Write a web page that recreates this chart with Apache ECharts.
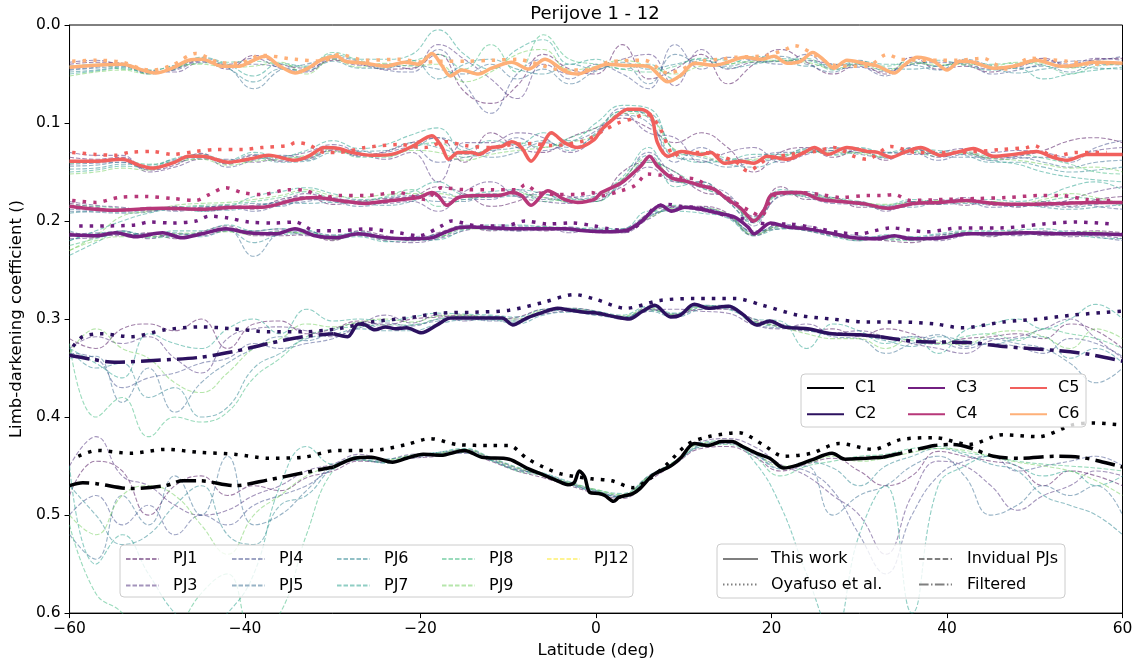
<!DOCTYPE html>
<html>
<head>
<meta charset="utf-8">
<title>Perijove 1 - 12</title>
<script src="https://cdn.jsdelivr.net/npm/echarts/dist/echarts.min.js"></script>
<style>
  html, body { margin: 0; padding: 0; background: #ffffff; }
  #chart { width: 1140px; height: 664px; }
</style>
</head>
<body>
<div id="chart"></div>
<script>
// ---------------------------------------------------------------
// Limb-darkening coefficients C1..C6 versus latitude, Perijove 1-12
// ---------------------------------------------------------------

// Latitude ticks (deg) and limb-darkening ticks
const X_TICKS = [-60, -40, -20, 0, 20, 40, 60];
const Y_TICKS = [0.0, 0.1, 0.2, 0.3, 0.4, 0.5, 0.6];

// Common latitude grid of the individual perijove profiles
const LAT_GRID = [-60,-57,-54,-51,-48,-45,-42,-39,-36,-33,-30,-27,-24,-21,-18,-15,-12,-9,-6,-3,0,
                  3,6,9,12,15,18,21,24,27,30,33,36,39,42,45,48,51,54,57,60];

// ---- This work (solid), [latitude, coefficient] ----
const C1_THIS_WORK = [[-29.9,0.451],[-27.5,0.442],[-25.6,0.441],[-23.2,0.446],[-21.6,0.442],[-19.7,0.438],[-17.7,0.439],[-15,0.434],[-13,0.441],[-9.9,0.443],[-7.9,0.452],[-6,0.459],[-4.4,0.465],[-3.2,0.469],[-2.5,0.467],[-1.9,0.455],[-1.3,0.461],[-0.7,0.477],[0.3,0.478],[1.0,0.480],[2.0,0.486],[2.6,0.482],[4.2,0.478],[5.0,0.473],[6.5,0.459],[8.5,0.450],[9.6,0.442],[11.2,0.427],[12.8,0.429],[14.3,0.425],[15.5,0.425],[16.7,0.430],[18.3,0.437],[19.8,0.442],[21.4,0.452],[23.0,0.449],[24.5,0.444],[26.9,0.437],[28.4,0.443],[30.8,0.442],[32.7,0.441]];
const C2_THIS_WORK = [[-29.9,0.315],[-28.3,0.318],[-27.1,0.305],[-26.3,0.306],[-25.2,0.311],[-24.0,0.308],[-22.8,0.310],[-21.6,0.309],[-19.9,0.314],[-18.1,0.306],[-16.6,0.299],[-13.8,0.299],[-10.7,0.299],[-9.5,0.306],[-7.9,0.299],[-6.0,0.293],[-4.4,0.289],[-2.9,0.291],[-1.3,0.293],[0.2,0.294],[1.8,0.297],[3.8,0.300],[5.3,0.292],[6.7,0.286],[8.5,0.298],[9.6,0.296],[11.2,0.285],[12.8,0.289],[15.1,0.287],[16.7,0.295],[18.3,0.306],[19.8,0.302],[21.4,0.308],[24.1,0.310],[26.9,0.315],[30.0,0.316],[32.4,0.318]];
const C3_THIS_WORK = [[-60,0.214],[-57,0.215],[-54.7,0.212],[-52.5,0.216],[-49.4,0.212],[-47.2,0.217],[-44.9,0.213],[-42.2,0.208],[-39.6,0.212],[-36.5,0.213],[-34.3,0.208],[-32.0,0.215],[-29.6,0.217],[-27.1,0.213],[-24.0,0.217],[-21.0,0.218],[-18.7,0.217],[-17.6,0.213],[-15.7,0.207],[-14.2,0.206],[-11.9,0.207],[-8.9,0.208],[-7.4,0.208],[-5.8,0.208],[-3.6,0.208],[-1.3,0.210],[1.3,0.211],[3.6,0.209],[5.1,0.201],[7.4,0.184],[8.6,0.190],[10.1,0.186],[12.0,0.188],[13.5,0.191],[15.8,0.196],[17.3,0.206],[18.0,0.213],[19.9,0.202],[21.8,0.206],[24.1,0.208],[27.1,0.213],[29.4,0.217],[32.1,0.218],[34.0,0.215],[35.8,0.218],[39.6,0.217],[42.3,0.213],[45.3,0.213],[49.1,0.212],[52.9,0.213],[56.7,0.213],[60,0.214]];
const C4_THIS_WORK = [[-60,0.185],[-55.1,0.189],[-49.4,0.187],[-44.9,0.188],[-41.1,0.186],[-38.1,0.186],[-34.3,0.178],[-32.0,0.176],[-29.3,0.179],[-26.3,0.182],[-23.3,0.179],[-20.2,0.176],[-18.7,0.171],[-18.0,0.174],[-17.0,0.184],[-15.7,0.176],[-13.4,0.174],[-11.2,0.174],[-9.6,0.171],[-8.5,0.174],[-7.4,0.184],[-5.5,0.169],[-3.6,0.178],[-2.1,0.181],[-0.2,0.178],[0.6,0.171],[2.9,0.161],[5.1,0.144],[6.1,0.134],[7.0,0.144],[8.6,0.156],[10.1,0.159],[12.0,0.164],[13.5,0.168],[15.0,0.178],[16.5,0.187],[18.0,0.200],[19.2,0.188],[19.9,0.174],[21.8,0.171],[23.3,0.171],[25.6,0.178],[27.9,0.180],[30.9,0.183],[33.2,0.187],[36.2,0.182],[39.3,0.181],[42.3,0.179],[45.3,0.182],[49.1,0.183],[52.9,0.182],[56.7,0.181],[60,0.181]];
const C5_THIS_WORK = [[-60,0.139],[-57,0.139],[-54,0.137],[-52.1,0.143],[-50.6,0.146],[-48.3,0.141],[-46.4,0.134],[-44.9,0.134],[-41.9,0.140],[-39.6,0.137],[-37.3,0.133],[-34.3,0.138],[-32.8,0.134],[-30.9,0.125],[-29.3,0.126],[-27.8,0.130],[-25.6,0.133],[-23.3,0.132],[-21.0,0.124],[-18.7,0.113],[-17.6,0.124],[-16.8,0.137],[-15.7,0.130],[-14.2,0.130],[-13.4,0.132],[-11.9,0.125],[-10.8,0.124],[-9.6,0.119],[-8.5,0.125],[-7.4,0.139],[-6.2,0.124],[-5.1,0.110],[-3.6,0.120],[-2.1,0.125],[-0.2,0.117],[0.6,0.107],[2.1,0.095],[3.6,0.086],[5.1,0.086],[6.3,0.093],[7.0,0.120],[8.2,0.134],[9.7,0.129],[12.0,0.132],[13.1,0.130],[14.6,0.141],[16.5,0.139],[18.0,0.141],[19.5,0.134],[21.8,0.137],[23.7,0.130],[24.9,0.125],[26.4,0.132],[28.6,0.125],[30.9,0.129],[32.1,0.130],[33.6,0.135],[35.1,0.130],[37.0,0.125],[39.3,0.133],[41.5,0.129],[43.0,0.126],[45.3,0.134],[47.6,0.132],[50.2,0.129],[52.1,0.135],[53.7,0.138],[55.9,0.132],[60,0.132]];
const C6_THIS_WORK = [[-60,0.043],[-57,0.041],[-54,0.040],[-51.7,0.046],[-50.2,0.049],[-48.3,0.044],[-46.4,0.036],[-44.9,0.035],[-42.6,0.042],[-40.7,0.042],[-38.8,0.035],[-37.7,0.032],[-36.2,0.041],[-34.3,0.049],[-32.8,0.044],[-31.2,0.035],[-29.5,0.032],[-28.6,0.037],[-26.3,0.039],[-24.0,0.042],[-21.8,0.038],[-20.2,0.040],[-18.7,0.029],[-17.6,0.041],[-16.6,0.052],[-15.3,0.046],[-13.4,0.050],[-11.9,0.044],[-9.6,0.038],[-7.7,0.045],[-5.8,0.035],[-3.6,0.047],[-2.1,0.050],[-0.2,0.044],[1.3,0.040],[2.9,0.041],[5.9,0.042],[8.2,0.058],[9.7,0.051],[11.2,0.039],[13.5,0.041],[15.0,0.038],[16.9,0.033],[18.8,0.035],[20.3,0.032],[21.8,0.039],[23.3,0.037],[24.7,0.028],[26.0,0.036],[27.1,0.044],[28.6,0.036],[30.5,0.039],[32.1,0.042],[34.0,0.049],[35.1,0.041],[36.6,0.033],[38.5,0.037],[40.0,0.046],[41.5,0.037],[43.0,0.038],[45.3,0.044],[47.6,0.042],[50.2,0.036],[52.9,0.042],[54.8,0.041],[56.7,0.038],[60,0.039]];

// ---- Filtered (dash-dot) high-latitude parts of C1 and C2 ----
const C1_FILTERED_S = [[-60,0.470],[-58.5,0.467],[-56.9,0.468],[-53,0.473],[-49.1,0.470],[-47.1,0.465],[-45.1,0.465],[-41.2,0.470],[-37.3,0.464],[-33.4,0.457],[-29.9,0.451]];
const C1_FILTERED_N = [[32.7,0.441],[34.7,0.437],[38.6,0.429],[40.6,0.428],[42.5,0.431],[45.3,0.440],[48.4,0.442],[52.3,0.440],[55.1,0.441],[57.4,0.445],[60,0.451]];
const C2_FILTERED_S = [[-60,0.337],[-57.5,0.341],[-54.9,0.344],[-50,0.342],[-45.1,0.339],[-41.2,0.333],[-37.3,0.325],[-33.4,0.318],[-29.9,0.315]];
const C2_FILTERED_N = [[32.4,0.318],[36.6,0.323],[42.5,0.324],[46.4,0.328],[52.3,0.332],[56.2,0.336],[60,0.343]];

// ---- Oyafuso et al. (dotted) ----
const C1_OYAFUSO = [[-59.0,0.440],[-56.9,0.434],[-53.0,0.437],[-49.1,0.433],[-45.1,0.436],[-41.2,0.438],[-37.3,0.442],[-33.4,0.441],[-29.5,0.434],[-25.6,0.434],[-21.6,0.428],[-18.9,0.422],[-15.8,0.428],[-11.9,0.429],[-9.9,0.429],[-7.9,0.442],[-6.0,0.451],[-4.0,0.458],[-0.5,0.463],[1.8,0.465],[4.2,0.472],[6.1,0.463],[8.1,0.448],[10.4,0.428],[12.8,0.420],[16.3,0.416],[19.0,0.428],[21.4,0.440],[24.5,0.437],[27.7,0.427],[31.6,0.433],[34.7,0.423],[38.6,0.421],[42.5,0.428],[46.4,0.418],[50.4,0.420],[54.3,0.408],[56.6,0.406],[59.8,0.408]];
const C2_OYAFUSO = [[-59.6,0.328],[-58.5,0.318],[-56.5,0.315],[-53.0,0.318],[-49.1,0.311],[-45.1,0.308],[-41.2,0.310],[-37.3,0.313],[-33.4,0.313],[-29.5,0.310],[-25.6,0.303],[-21.6,0.299],[-17.7,0.294],[-13.8,0.293],[-9.9,0.291],[-6.0,0.283],[-2.5,0.275],[0,0.280],[3.4,0.289],[7.3,0.281],[11.2,0.279],[15.9,0.279],[19.0,0.286],[23.0,0.296],[26.9,0.300],[30.8,0.303],[34.7,0.303],[38.6,0.305],[41.7,0.309],[46.4,0.303],[50.4,0.300],[54.3,0.296],[58.2,0.293],[60,0.292]];
const C3_OYAFUSO = [[-58.9,0.205],[-55.9,0.205],[-52.5,0.204],[-50.9,0.201],[-48.3,0.202],[-45.6,0.200],[-44.1,0.195],[-41.9,0.197],[-39.6,0.201],[-36.5,0.202],[-34.3,0.201],[-32.0,0.210],[-29.3,0.210],[-26.3,0.208],[-22.5,0.212],[-20.2,0.215],[-17.6,0.205],[-16.5,0.200],[-13.4,0.205],[-10.4,0.205],[-8.1,0.200],[-5.5,0.203],[-2.8,0.202],[-0.2,0.205],[1.5,0.208],[3.6,0.210],[5.5,0.198],[6.7,0.186],[8.2,0.183],[9.7,0.185],[12.0,0.187],[15.0,0.195],[16.9,0.198],[19.5,0.203],[21.8,0.203],[24.9,0.207],[27.9,0.212],[30.2,0.213],[31.7,0.210],[33.6,0.207],[37.7,0.211],[41.5,0.207],[46.1,0.207],[51.0,0.203],[54.8,0.201],[58.6,0.203]];
const C4_OYAFUSO = [[-59.7,0.179],[-57,0.181],[-54.4,0.176],[-51.3,0.175],[-48.3,0.177],[-45.6,0.179],[-44.1,0.173],[-42.2,0.166],[-40.3,0.171],[-38.1,0.173],[-35,0.168],[-33.1,0.169],[-30.9,0.176],[-29.3,0.174],[-26.3,0.174],[-22.5,0.171],[-19.5,0.178],[-17.6,0.166],[-14.9,0.168],[-11.9,0.168],[-8.9,0.168],[-8.1,0.163],[-6.6,0.171],[-4.3,0.173],[-2.1,0.173],[-0.5,0.171],[0.6,0.174],[2.9,0.169],[4.4,0.164],[5.9,0.152],[7.2,0.153],[8.6,0.154],[9.7,0.156],[11.2,0.157],[13.1,0.166],[15.8,0.181],[17.6,0.190],[18.8,0.195],[20.3,0.174],[23.3,0.171],[25.6,0.173],[27.9,0.176],[30.9,0.174],[32.4,0.174],[34.0,0.173],[35.8,0.179],[39.6,0.178],[43.4,0.177],[46.8,0.176],[50.6,0.174],[52.9,0.174],[55.9,0.178],[58.6,0.179]];
const C5_OYAFUSO = [[-59.7,0.130],[-57,0.132],[-54.7,0.133],[-53.2,0.130],[-50.6,0.129],[-48.3,0.132],[-45.6,0.129],[-43.4,0.127],[-40.3,0.127],[-38.1,0.125],[-35.0,0.123],[-34.3,0.120],[-32.8,0.122],[-30.9,0.130],[-29.3,0.130],[-26.3,0.125],[-22.5,0.122],[-19.5,0.125],[-17.2,0.119],[-14.9,0.123],[-11.9,0.125],[-9.6,0.122],[-7.4,0.121],[-5.1,0.123],[-1.3,0.118],[1.0,0.107],[2.5,0.100],[4.4,0.095],[5.5,0.091],[6.3,0.093],[7.4,0.107],[8.2,0.124],[8.9,0.134],[9.7,0.130],[12.0,0.130],[15.8,0.139],[17.3,0.149],[19.5,0.137],[22.2,0.132],[24.9,0.129],[27.1,0.125],[29.4,0.134],[30.9,0.137],[33.6,0.124],[36.6,0.130],[41.5,0.130],[46.1,0.127],[49.1,0.125],[49.9,0.123],[52.1,0.134],[54.8,0.130],[58.2,0.130]];
const C6_OYAFUSO = [[-59.7,0.037],[-57,0.036],[-54,0.038],[-51.7,0.045],[-50.6,0.046],[-48.3,0.041],[-45.6,0.029],[-43,0.038],[-40.7,0.039],[-38.1,0.031],[-34.3,0.035],[-31.2,0.037],[-29.3,0.030],[-26.3,0.036],[-22.5,0.035],[-19.5,0.038],[-17.6,0.037],[-14.9,0.037],[-11.9,0.036],[-8.9,0.035],[-7.4,0.038],[-3.6,0.046],[-0.5,0.046],[1.3,0.038],[5.5,0.036],[8.2,0.049],[12.0,0.037],[14.2,0.035],[15.8,0.033],[19.5,0.031],[21.8,0.024],[22.6,0.021],[25.0,0.031],[27.1,0.041],[29.4,0.042],[30.9,0.042],[33.2,0.030],[34.7,0.035],[39.3,0.036],[41.1,0.036],[44.2,0.034],[45.3,0.039],[46.8,0.045],[49.5,0.034],[51.4,0.035],[53.7,0.037],[56.7,0.040],[59,0.039]];

// ---- Individual perijoves on LAT_GRID ----
const C1_PJ1 = [.480,.445,.455,.500,.470,.460,.480,.470,.475,.462,.455,.445,.446,.442,.440,.436,.445,.455,.462,.470,.478,.483,.465,.448,.432,.430,.440,.455,.448,.442,.455,.470,.460,.435,.440,.445,.450,.470,.455,.460,.470];
const C1_PJ3 = [.450,.420,.460,.470,.490,.500,.495,.480,.470,.455,.448,.438,.443,.438,.437,.433,.442,.452,.460,.468,.476,.480,.460,.445,.425,.422,.430,.448,.460,.480,.500,.540,.480,.445,.450,.470,.495,.480,.470,.455,.460];
const C1_PJ4 = [.500,.480,.510,.490,.520,.500,.510,.490,.480,.470,.453,.444,.446,.442,.439,.437,.444,.454,.458,.467,.475,.482,.463,.447,.430,.427,.438,.450,.455,.475,.520,.560,.500,.460,.445,.440,.455,.450,.445,.440,.450];
const C1_PJ5 = [.520,.545,.480,.510,.460,.500,.440,.510,.500,.475,.450,.442,.445,.440,.436,.434,.443,.453,.459,.468,.477,.481,.462,.446,.428,.425,.436,.452,.450,.500,.480,.470,.450,.440,.460,.500,.490,.470,.480,.470,.500];
const C1_PJ6 = [.470,.500,.530,.520,.490,.470,.520,.530,.490,.480,.452,.443,.447,.441,.438,.435,.444,.454,.458,.469,.476,.482,.462,.447,.429,.426,.437,.453,.446,.452,.470,.450,.440,.432,.438,.448,.455,.480,.490,.500,.520];
const C1_PJ7 = [.450,.550,.520,.560,.600,.620,.600,.560,.470,.430,.448,.440,.443,.439,.436,.432,.441,.451,.457,.466,.474,.478,.460,.445,.426,.424,.445,.490,.560,.620,.520,.470,.600,.470,.450,.440,.450,.460,.455,.470,.460];
const C1_PJ8 = [.510,.580,.600,.640,.620,.580,.560,.620,.600,.520,.455,.444,.446,.440,.438,.436,.444,.455,.460,.468,.475,.480,.461,.446,.430,.428,.440,.460,.450,.445,.440,.438,.432,.430,.436,.440,.445,.448,.450,.452,.455];
const C1_PJ9 = [.500,.520,.480,.470,.480,.510,.540,.500,.480,.460,.450,.441,.444,.439,.437,.433,.442,.452,.459,.467,.474,.479,.461,.445,.427,.425,.436,.450,.447,.440,.445,.442,.436,.432,.434,.440,.446,.450,.455,.465,.480];

const C2_PJ1 = [.320,.330,.310,.305,.312,.300,.330,.305,.302,.315,.310,.302,.306,.300,.298,.296,.300,.298,.290,.289,.292,.300,.290,.295,.290,.290,.300,.308,.312,.310,.318,.310,.315,.325,.320,.318,.315,.320,.305,.312,.330];
const C2_PJ3 = [.330,.318,.325,.318,.340,.355,.320,.310,.308,.312,.318,.306,.296,.304,.296,.302,.298,.300,.295,.292,.296,.298,.292,.290,.292,.294,.306,.310,.305,.314,.312,.318,.325,.330,.335,.322,.318,.310,.300,.320,.340];
const C2_PJ4 = [.335,.340,.370,.360,.355,.345,.340,.325,.330,.325,.320,.309,.304,.307,.300,.298,.302,.302,.294,.290,.293,.300,.288,.296,.286,.289,.302,.305,.311,.316,.315,.320,.318,.322,.330,.325,.328,.335,.320,.325,.338];
const C2_PJ5 = [.340,.338,.385,.350,.395,.365,.345,.330,.318,.322,.312,.304,.309,.306,.302,.297,.297,.304,.292,.291,.294,.298,.290,.297,.288,.286,.305,.309,.310,.318,.320,.335,.325,.316,.328,.320,.325,.330,.345,.365,.350];
const C2_PJ6 = [.330,.350,.345,.380,.370,.400,.390,.350,.335,.320,.316,.310,.312,.312,.305,.301,.301,.305,.296,.293,.296,.299,.292,.298,.290,.288,.303,.308,.312,.315,.317,.322,.328,.318,.322,.326,.320,.318,.340,.330,.345];
const C2_PJ7 = [.330,.345,.360,.315,.325,.330,.310,.300,.315,.290,.302,.300,.302,.298,.294,.295,.296,.298,.290,.289,.292,.296,.287,.294,.286,.290,.300,.302,.330,.305,.312,.325,.318,.335,.312,.305,.300,.310,.300,.285,.300];
const C2_PJ8 = [.325,.400,.380,.420,.400,.405,.395,.360,.340,.318,.310,.308,.306,.306,.300,.298,.300,.302,.293,.290,.295,.298,.291,.295,.288,.288,.304,.306,.310,.315,.316,.318,.322,.326,.318,.315,.322,.310,.315,.320,.330];
const C2_PJ9 = [.335,.310,.330,.340,.365,.375,.355,.330,.320,.305,.308,.303,.300,.303,.297,.296,.299,.300,.291,.290,.293,.297,.289,.296,.287,.287,.302,.308,.315,.320,.320,.330,.320,.324,.326,.315,.312,.318,.330,.310,.320];

const C3_PJ1 = [.212,.214,.215,.212,.218,.211,.205,.215,.215,.214,.220,.210,.215,.220,.212,.205,.210,.206,.210,.207,.212,.212,.192,.185,.185,.192,.215,.205,.210,.215,.218,.220,.222,.215,.212,.216,.210,.215,.212,.210,.212];
const C3_PJ3 = [.218,.217,.210,.218,.213,.215,.210,.210,.208,.215,.215,.215,.220,.222,.218,.210,.205,.210,.205,.212,.208,.212,.198,.186,.190,.196,.210,.208,.205,.214,.220,.215,.216,.220,.215,.212,.215,.210,.216,.215,.218];
const C3_PJ4 = [.216,.212,.214,.213,.216,.214,.207,.213,.210,.210,.218,.214,.218,.216,.214,.204,.208,.210,.209,.206,.210,.208,.194,.188,.186,.195,.214,.203,.207,.212,.215,.218,.219,.216,.214,.211,.214,.213,.210,.216,.220];
const C3_PJ5 = [.210,.216,.213,.216,.214,.212,.209,.236,.213,.211,.214,.212,.216,.217,.216,.208,.206,.205,.208,.210,.211,.211,.196,.186,.189,.193,.212,.204,.209,.214,.216,.216,.218,.214,.213,.215,.212,.214,.214,.212,.215];
const C3_PJ6 = [.220,.213,.211,.214,.212,.216,.210,.222,.214,.213,.216,.211,.217,.219,.213,.206,.209,.207,.207,.209,.209,.209,.195,.188,.187,.194,.211,.206,.208,.213,.218,.217,.217,.218,.212,.214,.213,.211,.213,.214,.213];
const C3_PJ7 = [.235,.222,.210,.215,.210,.210,.204,.210,.208,.209,.218,.216,.221,.220,.219,.209,.204,.204,.206,.208,.207,.208,.190,.190,.192,.197,.215,.208,.210,.216,.220,.214,.216,.213,.210,.210,.209,.208,.212,.217,.218];
const C3_PJ8 = [.225,.218,.212,.217,.216,.213,.208,.211,.212,.212,.215,.213,.219,.218,.217,.205,.207,.209,.206,.207,.209,.210,.193,.184,.188,.195,.213,.207,.209,.212,.217,.219,.220,.217,.211,.213,.211,.212,.214,.213,.215];
const C3_PJ9 = [.230,.220,.216,.216,.213,.212,.211,.214,.211,.213,.219,.214,.216,.217,.216,.208,.208,.208,.207,.208,.211,.209,.197,.187,.187,.193,.214,.205,.207,.214,.219,.218,.217,.218,.213,.212,.211,.213,.212,.211,.214];

const C4_PJ1 = [.182,.186,.190,.186,.189,.186,.185,.188,.178,.175,.183,.180,.177,.175,.165,.172,.185,.180,.170,.175,.180,.150,.140,.150,.170,.175,.195,.165,.178,.176,.186,.185,.183,.178,.184,.180,.186,.180,.185,.178,.175];
const C4_PJ3 = [.180,.184,.186,.190,.185,.190,.188,.184,.180,.172,.178,.179,.182,.180,.190,.170,.160,.175,.180,.182,.175,.165,.145,.160,.160,.180,.200,.175,.172,.180,.180,.190,.180,.183,.176,.184,.182,.185,.178,.170,.165];
const C4_PJ4 = [.188,.189,.188,.187,.190,.187,.184,.190,.184,.180,.176,.183,.178,.174,.175,.178,.178,.168,.178,.176,.172,.158,.130,.155,.165,.172,.205,.170,.176,.182,.183,.188,.184,.182,.180,.186,.184,.182,.180,.185,.188];
const C4_PJ5 = [.190,.191,.192,.191,.186,.189,.187,.182,.185,.178,.180,.185,.181,.176,.180,.180,.172,.175,.176,.180,.178,.162,.138,.158,.166,.178,.198,.174,.170,.178,.181,.186,.186,.180,.178,.181,.185,.184,.186,.183,.180];
const C4_PJ6 = [.192,.190,.191,.189,.188,.185,.189,.185,.181,.182,.181,.182,.184,.180,.170,.176,.176,.174,.173,.181,.180,.158,.133,.160,.162,.176,.196,.172,.174,.178,.184,.185,.180,.183,.182,.183,.183,.186,.188,.186,.183];
const C4_PJ7 = [.220,.210,.200,.192,.188,.190,.186,.175,.170,.166,.172,.178,.176,.170,.160,.173,.170,.168,.172,.178,.174,.155,.125,.165,.160,.180,.202,.168,.172,.176,.180,.184,.178,.180,.180,.178,.180,.175,.165,.160,.168];
const C4_PJ8 = [.184,.185,.187,.188,.186,.184,.183,.180,.176,.170,.177,.180,.175,.168,.185,.178,.175,.170,.180,.177,.180,.160,.140,.150,.166,.176,.200,.173,.175,.180,.182,.188,.183,.181,.178,.182,.184,.180,.176,.178,.185];
const C4_PJ9 = [.230,.215,.195,.190,.184,.182,.181,.178,.174,.168,.174,.176,.173,.172,.172,.176,.173,.172,.176,.180,.176,.157,.136,.158,.163,.177,.198,.171,.173,.177,.181,.183,.181,.179,.181,.180,.182,.178,.172,.176,.182];

const C5_PJ1 = [.135,.137,.135,.148,.143,.131,.142,.133,.139,.137,.128,.133,.129,.120,.115,.140,.110,.125,.130,.115,.105,.095,.105,.120,.110,.125,.150,.130,.125,.135,.127,.138,.125,.135,.130,.136,.134,.128,.118,.115,.120];
const C5_PJ3 = [.130,.133,.133,.150,.145,.137,.137,.140,.135,.130,.122,.130,.137,.130,.160,.120,.120,.110,.115,.130,.115,.090,.110,.115,.140,.130,.125,.140,.132,.125,.130,.130,.132,.130,.126,.130,.128,.130,.135,.128,.125];
const C5_PJ4 = [.142,.141,.140,.146,.138,.133,.145,.138,.133,.135,.124,.134,.130,.125,.140,.135,.130,.115,.128,.120,.108,.085,.095,.140,.125,.138,.135,.130,.130,.128,.132,.135,.130,.138,.132,.138,.136,.135,.140,.125,.118];
const C5_PJ5 = [.144,.143,.140,.147,.141,.136,.139,.132,.138,.138,.127,.128,.133,.126,.115,.125,.135,.130,.120,.125,.112,.092,.100,.135,.138,.145,.140,.136,.126,.132,.128,.136,.126,.133,.135,.135,.135,.140,.145,.140,.138];
const C5_PJ6 = [.147,.146,.142,.143,.137,.135,.141,.135,.140,.139,.130,.129,.128,.120,.125,.132,.128,.125,.118,.128,.110,.088,.090,.128,.135,.142,.145,.138,.130,.128,.126,.131,.128,.130,.133,.140,.140,.145,.150,.148,.145];
const C5_PJ7 = [.150,.148,.144,.145,.136,.132,.138,.130,.134,.128,.118,.126,.122,.112,.105,.128,.118,.122,.110,.118,.100,.082,.085,.130,.140,.138,.132,.132,.128,.126,.125,.130,.126,.128,.130,.138,.142,.150,.155,.158,.160];
const C5_PJ8 = [.141,.140,.138,.142,.139,.134,.140,.137,.135,.136,.126,.135,.135,.125,.120,.135,.125,.120,.125,.115,.105,.088,.092,.133,.130,.136,.138,.134,.127,.133,.130,.134,.130,.134,.129,.134,.132,.136,.142,.150,.152];
const C5_PJ9 = [.152,.150,.146,.148,.140,.137,.143,.139,.137,.133,.129,.132,.134,.128,.130,.138,.132,.128,.125,.120,.112,.090,.094,.127,.133,.140,.137,.134,.130,.130,.131,.135,.129,.131,.131,.136,.138,.142,.146,.145,.150];

const C6_PJ1 = [.040,.038,.039,.049,.045,.036,.045,.031,.040,.044,.036,.040,.045,.044,.030,.068,.080,.062,.030,.045,.050,.020,.055,.045,.030,.060,.040,.025,.038,.050,.040,.050,.033,.045,.042,.048,.040,.034,.043,.035,.034];
const C6_PJ3 = [.038,.036,.041,.046,.048,.038,.040,.034,.044,.048,.035,.041,.040,.045,.020,.035,.055,.075,.040,.050,.046,.035,.030,.062,.025,.045,.038,.037,.036,.040,.042,.048,.040,.038,.040,.045,.043,.036,.040,.034,.036];
const C6_PJ4 = [.045,.043,.039,.048,.046,.037,.041,.040,.043,.047,.033,.037,.046,.048,.025,.060,.090,.050,.035,.055,.040,.050,.065,.020,.045,.033,.036,.040,.030,.045,.043,.052,.038,.042,.036,.050,.046,.040,.037,.036,.032];
const C6_PJ5 = [.046,.044,.042,.050,.044,.034,.043,.065,.046,.040,.034,.039,.043,.041,.045,.050,.040,.055,.045,.060,.047,.040,.060,.030,.040,.042,.035,.032,.040,.048,.036,.047,.041,.046,.035,.041,.044,.042,.048,.040,.041];
const C6_PJ6 = [.048,.046,.043,.047,.041,.036,.044,.058,.045,.046,.037,.044,.044,.036,.055,.040,.035,.045,.050,.040,.045,.038,.045,.040,.035,.044,.040,.036,.042,.040,.040,.044,.045,.042,.039,.044,.049,.045,.043,.044,.045];
const C6_PJ7 = [.050,.047,.044,.049,.045,.033,.040,.052,.039,.042,.030,.035,.035,.030,.005,.030,.045,.025,.015,.040,.035,.045,.040,.055,.036,.040,.032,.034,.036,.042,.037,.040,.040,.036,.041,.046,.044,.055,.050,.046,.043];
const C6_PJ8 = [.042,.040,.045,.046,.042,.039,.038,.037,.040,.043,.028,.036,.041,.037,.030,.045,.020,.048,.010,.035,.040,.045,.048,.042,.034,.036,.038,.037,.034,.046,.039,.042,.037,.042,.038,.040,.039,.041,.050,.042,.040];
const C6_PJ9 = [.052,.048,.046,.050,.043,.040,.043,.042,.038,.050,.035,.043,.039,.042,.040,.058,.048,.030,.025,.046,.042,.036,.042,.050,.042,.040,.037,.036,.038,.044,.041,.046,.039,.040,.040,.042,.038,.039,.044,.039,.040];

// ---------------------------------------------------------------
// Styling and series assembly
// ---------------------------------------------------------------
const FONT = 'DejaVu Sans';
const COEF_NAMES = ['C1', 'C2', 'C3', 'C4', 'C5', 'C6'];
const COEF_COLORS = ['#000004', '#2c115f', '#721f81', '#b73779', '#f1605d', '#feb078'];
const THIS_WORK = [C1_THIS_WORK, C2_THIS_WORK, C3_THIS_WORK, C4_THIS_WORK, C5_THIS_WORK, C6_THIS_WORK];
const OYAFUSO = [C1_OYAFUSO, C2_OYAFUSO, C3_OYAFUSO, C4_OYAFUSO, C5_OYAFUSO, C6_OYAFUSO];
const FILTERED = [[C1_FILTERED_S, C1_FILTERED_N], [C2_FILTERED_S, C2_FILTERED_N], [], [], [], []];

const PJ_NAMES = ['PJ1', 'PJ3', 'PJ4', 'PJ5', 'PJ6', 'PJ7', 'PJ8', 'PJ9', 'PJ12'];
const PJ_COLORS = ['#440154', '#482878', '#3e4989', '#31688e', '#26828e', '#1f9e89', '#35b779', '#6ece58', '#fde725'];
const PJ_PROFILES = {
  PJ1: [C1_PJ1, C2_PJ1, C3_PJ1, C4_PJ1, C5_PJ1, C6_PJ1],
  PJ3: [C1_PJ3, C2_PJ3, C3_PJ3, C4_PJ3, C5_PJ3, C6_PJ3],
  PJ4: [C1_PJ4, C2_PJ4, C3_PJ4, C4_PJ4, C5_PJ4, C6_PJ4],
  PJ5: [C1_PJ5, C2_PJ5, C3_PJ5, C4_PJ5, C5_PJ5, C6_PJ5],
  PJ6: [C1_PJ6, C2_PJ6, C3_PJ6, C4_PJ6, C5_PJ6, C6_PJ6],
  PJ7: [C1_PJ7, C2_PJ7, C3_PJ7, C4_PJ7, C5_PJ7, C6_PJ7],
  PJ8: [C1_PJ8, C2_PJ8, C3_PJ8, C4_PJ8, C5_PJ8, C6_PJ8],
  PJ9: [C1_PJ9, C2_PJ9, C3_PJ9, C4_PJ9, C5_PJ9, C6_PJ9],
  PJ12: []
};

const MAIN_WIDTH = 3.5;
const DOTTED = [3.5, 7];
const DASH_DOT = [20, 6, 4, 6];
const PJ_DASH = [4.5, 2];
const PJ_OPACITY = 0.5;

const series = [];

// individual perijoves: thin, translucent dashed lines underneath
PJ_NAMES.forEach((pj, k) => {
  const profiles = PJ_PROFILES[pj];
  if (!profiles.length) {
    series.push({ name: pj, type: 'line', data: [], symbol: 'none', color: PJ_COLORS[k],
      lineStyle: { width: 1.1, type: PJ_DASH, opacity: PJ_OPACITY, color: PJ_COLORS[k] } });
    return;
  }
  profiles.forEach(values => {
    series.push({
      name: pj, type: 'line', z: 1, symbol: 'none', smooth: 0.45, silent: true,
      color: PJ_COLORS[k],
      lineStyle: { width: 1.1, type: PJ_DASH, opacity: PJ_OPACITY, color: PJ_COLORS[k] },
      data: LAT_GRID.map((lat, i) => [lat, values[i]])
    });
  });
});

// Oyafuso et al., this work and filtered profiles
COEF_NAMES.forEach((c, k) => {
  const color = COEF_COLORS[k];
  series.push({
    name: c + ' Oyafuso', type: 'line', z: 3, symbol: 'none', smooth: 0.3, silent: true,
    color: color, lineStyle: { width: MAIN_WIDTH, type: DOTTED, color: color, cap: 'butt' },
    data: OYAFUSO[k]
  });
  FILTERED[k].forEach(part => {
    series.push({
      name: c + ' filtered', type: 'line', z: 4, symbol: 'none', smooth: 0.3, silent: true,
      color: color, lineStyle: { width: MAIN_WIDTH, type: DASH_DOT, color: color, cap: 'butt' },
      data: part
    });
  });
  series.push({
    name: c, type: 'line', z: 5, symbol: 'none', smooth: 0.3, silent: true,
    color: color, lineStyle: { width: MAIN_WIDTH, type: 'solid', color: color },
    data: THIS_WORK[k]
  });
});

// line-style key entries
const KEY_GREY = '#7f7f7f';
[['This work', 'solid'], ['Oyafuso et al.', [1.5, 2.5]], ['Invidual PJs', [5.5, 2.4]], ['Filtered', [9.6, 2.4, 1.5, 2.4]]]
  .forEach(([name, type]) => {
    series.push({ name: name, type: 'line', data: [], symbol: 'none', color: KEY_GREY,
      lineStyle: { width: 1.5, type: type, color: KEY_GREY } });
  });

// one legend per column, laid out column by column
function legendColumn(names, left, top, itemWidth, rowStep, textPad) {
  return {
    data: names, orient: 'vertical', left: left, top: top, padding: 0, z: 20,
    itemWidth: itemWidth, itemHeight: 14, itemGap: rowStep - 14, selectedMode: false,
    itemStyle: { opacity: 0 },
    textStyle: { fontFamily: FONT, fontSize: 16, color: '#000', lineHeight: 14, padding: [0, 0, 0, textPad] }
  };
}

const legends = [
  legendColumn(['C1', 'C2'], 806, 380, 37, 24.3, 6),
  legendColumn(['C3', 'C4'], 907, 380, 37, 24.3, 6),
  legendColumn(['C5', 'C6'], 1009, 380, 37, 24.3, 6),
  legendColumn(['PJ1', 'PJ3'], 125, 551, 33, 24.5, 9),
  legendColumn(['PJ4', 'PJ5'], 231, 551, 33, 24.5, 9),
  legendColumn(['PJ6', 'PJ7'], 336, 551, 33, 24.5, 9),
  legendColumn(['PJ8', 'PJ9'], 441, 551, 33, 24.5, 9),
  legendColumn(['PJ12'], 546, 551, 33, 24.5, 9),
  legendColumn(['This work', 'Oyafuso et al.'], 722, 551, 35, 23.4, 8),
  legendColumn(['Invidual PJs', 'Filtered'], 918, 551, 33, 23.4, 10)
];

function legendFrame(x, y, w, h) {
  return {
    type: 'rect', z: 15, silent: true,
    shape: { x: x, y: y, width: w, height: h, r: 4 },
    style: { fill: 'rgba(255,255,255,0.8)', stroke: '#cccccc', lineWidth: 1 }
  };
}

const chart = echarts.init(document.getElementById('chart'), null, { renderer: 'canvas' });
chart.setOption({
  animation: false,
  backgroundColor: '#ffffff',
  textStyle: { fontFamily: FONT },
  title: {
    text: 'Perijove 1 - 12', left: 595, top: 5, padding: 0, textAlign: 'center',
    textStyle: { fontFamily: FONT, fontSize: 18, fontWeight: 'normal', color: '#000' }
  },
  grid: { left: 67, right: 17.5, top: 25, bottom: 48, show: true, borderColor: '#000', borderWidth: 1, backgroundColor: 'transparent' },
  xAxis: {
    type: 'value', min: X_TICKS[0], max: X_TICKS[X_TICKS.length - 1], interval: X_TICKS[1] - X_TICKS[0],
    name: 'Latitude (deg)', nameLocation: 'middle', nameGap: 27,
    nameTextStyle: { fontFamily: FONT, fontSize: 16.5, color: '#000' },
    axisLine: { show: true, onZero: false, lineStyle: { color: '#000', width: 1 } },
    axisTick: { show: true, length: 5, lineStyle: { color: '#000' } },
    axisLabel: { margin: 8, fontFamily: FONT, fontSize: 15.5, color: '#000',
      formatter: v => (v < 0 ? '\u2212' + Math.abs(v) : String(v)) },
    splitLine: { show: false }
  },
  yAxis: {
    type: 'value', inverse: true, min: Y_TICKS[0], max: Y_TICKS[Y_TICKS.length - 1], interval: 0.1,
    name: 'Limb-darkening coefficient ()', nameLocation: 'middle', nameGap: 41,
    nameTextStyle: { fontFamily: FONT, fontSize: 16.5, color: '#000' },
    axisLine: { show: true, onZero: false, lineStyle: { color: '#000', width: 1 } },
    axisTick: { show: true, length: 5, lineStyle: { color: '#000' } },
    axisLabel: { margin: 9, fontFamily: FONT, fontSize: 15.5, color: '#000', formatter: v => v.toFixed(1) },
    splitLine: { show: false }
  },
  legend: legends,
  graphic: { elements: [
    legendFrame(801, 374, 285, 53),
    legendFrame(120, 545, 513, 52),
    legendFrame(717, 544, 348, 54)
  ] },
  series: series
});
</script>
</body>
</html>
